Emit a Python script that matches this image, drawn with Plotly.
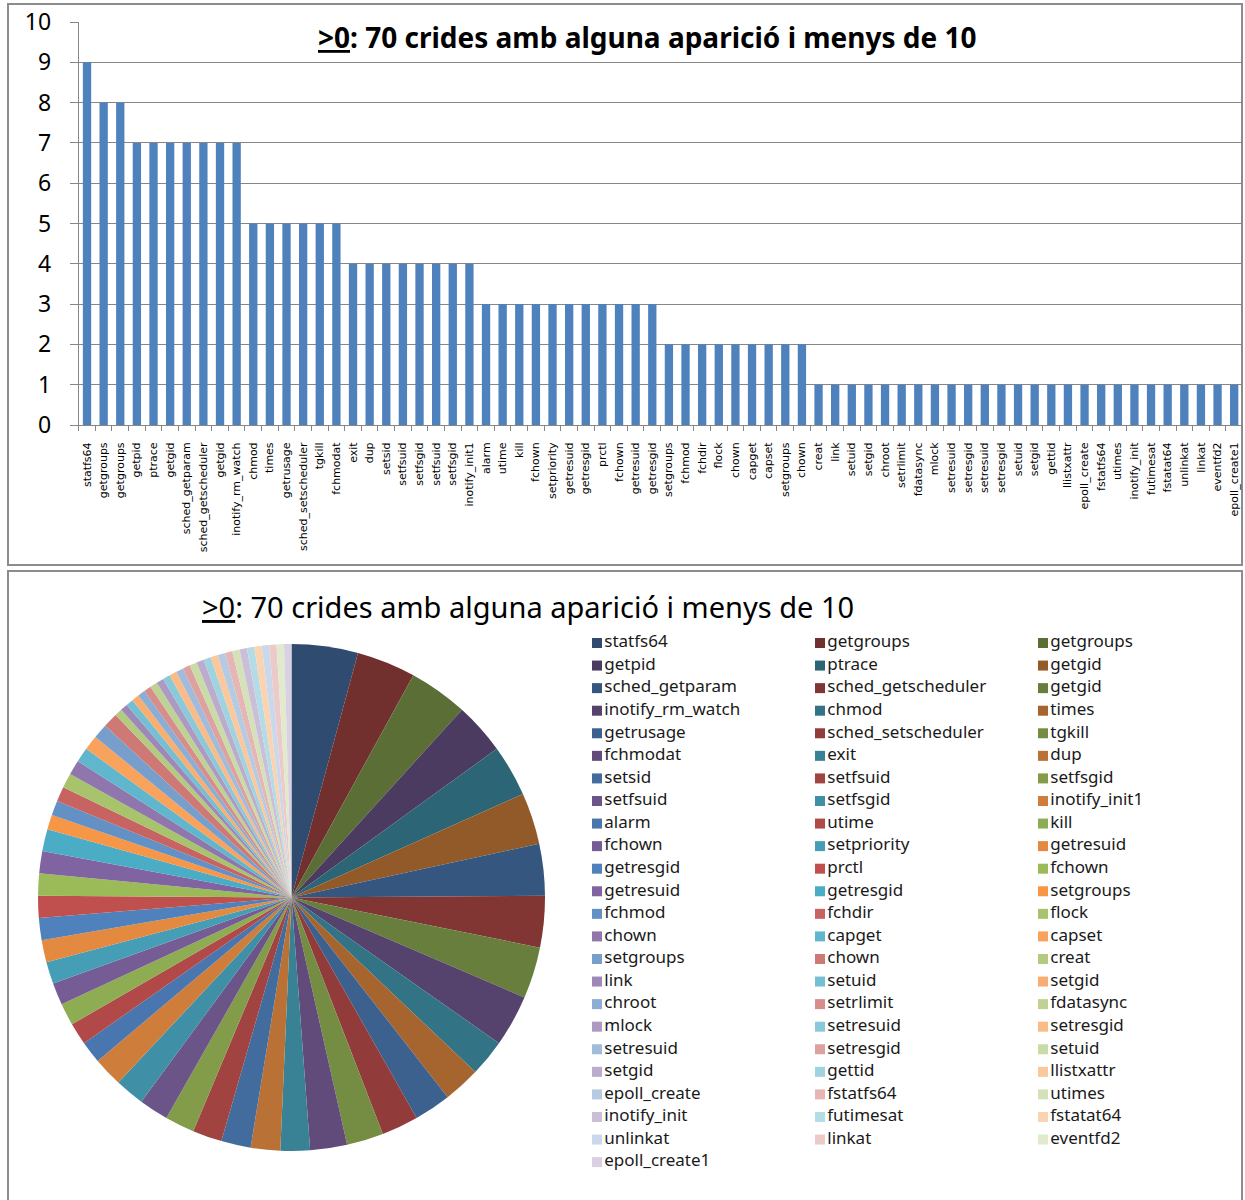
import plotly.graph_objects as go

# System calls seen at least once but fewer than 10 times
calls = [
    "statfs64", "getgroups", "getgroups", "getpid", "ptrace", "getgid",
    "sched_getparam", "sched_getscheduler", "getgid", "inotify_rm_watch", "chmod", "times",
    "getrusage", "sched_setscheduler", "tgkill", "fchmodat", "exit", "dup",
    "setsid", "setfsuid", "setfsgid", "setfsuid", "setfsgid", "inotify_init1",
    "alarm", "utime", "kill", "fchown", "setpriority", "getresuid",
    "getresgid", "prctl", "fchown", "getresuid", "getresgid", "setgroups",
    "fchmod", "fchdir", "flock", "chown", "capget", "capset",
    "setgroups", "chown", "creat", "link", "setuid", "setgid",
    "chroot", "setrlimit", "fdatasync", "mlock", "setresuid", "setresgid",
    "setresuid", "setresgid", "setuid", "setgid", "gettid", "llistxattr",
    "epoll_create", "fstatfs64", "utimes", "inotify_init", "futimesat", "fstatat64",
    "unlinkat", "linkat", "eventfd2", "epoll_create1",
]
counts = [
    9, 8, 8, 7, 7, 7, 7, 7, 7, 7,
    5, 5, 5, 5, 5, 5,
    4, 4, 4, 4, 4, 4, 4, 4,
    3, 3, 3, 3, 3, 3, 3, 3, 3, 3, 3,
    2, 2, 2, 2, 2, 2, 2, 2, 2,
    1, 1, 1, 1, 1, 1, 1, 1, 1, 1, 1, 1, 1,
    1, 1, 1, 1, 1, 1, 1, 1, 1, 1, 1, 1, 1,
]
y_ticks = list(range(0, 11))
title_html = "<u>>0</u>: 70 crides amb alguna aparició i menys de 10"

W, H = 1245, 1200
FONT = "Noto Sans"
GRID = "#868686"

# Office-style palette: six accents, each cycled from a dark shade to a light tint
ACCENTS = ["#4F81BD", "#C0504D", "#9BBB59", "#8064A2", "#4BACC6", "#F79646"]


def vary(hex_color, amount):
    rgb = [int(hex_color[i:i + 2], 16) for i in (1, 3, 5)]
    if amount < 0:
        out = [c * (1 + amount) for c in rgb]
    else:
        out = [c + (255 - c) * amount for c in rgb]
    return "#%02x%02x%02x" % tuple(round(c) for c in out)


def cycle_amount(k):
    return -0.41 + 0.082 * k if k <= 5 else 0.116 * (k - 5)


slice_colors = [vary(ACCENTS[i % 6], cycle_amount(i // 6)) for i in range(len(calls))]


def px_x(p):
    return p / W


def px_y(p):
    return 1 - p / H


fig = go.Figure()

# ---- bar chart ----
idx = list(range(len(calls)))
fig.add_trace(go.Bar(
    x=idx, y=counts, marker=dict(color="#4F81BD", line=dict(width=0)),
    xaxis="x", yaxis="y", showlegend=False,
    hovertext=calls, hoverinfo="text+y",
))

# ---- pie chart (labels left as indices so repeated names stay separate slices) ----
fig.add_trace(go.Pie(
    values=counts, customdata=calls,
    hovertemplate="%{customdata}: %{value}<extra></extra>",
    marker=dict(colors=slice_colors, line=dict(width=0)),
    sort=False, direction="clockwise", rotation=0,
    textinfo="none", showlegend=False,
    domain=dict(x=[px_x(38), px_x(545)], y=[px_y(1151), px_y(644)]),
))

# ---- legend for the pie: three columns, filled row by row ----
n_cols = 3
fig.add_trace(go.Scatter(
    x=[i % n_cols for i in idx], y=[i // n_cols for i in idx],
    mode="markers+text", text=calls, textposition="middle right",
    textfont=dict(family=FONT, size=17, color="#1a1a1a"),
    marker=dict(symbol="square", size=10, color=slice_colors, line=dict(width=0)),
    xaxis="x3", yaxis="y3", showlegend=False, hoverinfo="skip", cliponaxis=False,
))

col_step, col0 = 223, 597
row_step, row0 = 22.57, 643

fig.update_layout(
    width=W, height=H,
    margin=dict(l=0, r=0, t=0, b=0, autoexpand=False),
    paper_bgcolor="white", plot_bgcolor="rgba(0,0,0,0)",
    bargap=0.5,
    font=dict(family=FONT, color="#000"),
    xaxis=dict(
        domain=[px_x(78.7), px_x(1242.5)], anchor="y",
        range=[-0.5, len(calls) - 0.5],
        tickmode="array", tickvals=idx, ticktext=calls, tickangle=-90,
        tickfont=dict(family="DejaVu Sans", size=11, color="#000"),
        ticks="", showgrid=False, zeroline=False,
        showline=True, linecolor=GRID, linewidth=1,
        ticklabelstandoff=12,
        minor=dict(tick0=0.5, dtick=1, ticks="outside", ticklen=5,
                   tickcolor=GRID, showgrid=False),
        fixedrange=True,
    ),
    yaxis=dict(
        domain=[px_y(425), px_y(22)], anchor="x",
        range=[0, 10], tickmode="array", tickvals=y_ticks,
        tickfont=dict(family=FONT, size=23, color="#000"),
        ticks="outside", ticklen=8, tickcolor=GRID,
        showgrid=True, gridcolor=GRID, gridwidth=1,
        zeroline=False, showline=True, linecolor=GRID, linewidth=1,
        ticklabelstandoff=14, fixedrange=True,
    ),
    xaxis3=dict(
        domain=[0, 1], anchor="y3", visible=False, fixedrange=True,
        range=[-col0 / col_step, (W - col0) / col_step],
    ),
    yaxis3=dict(
        domain=[0, 1], anchor="x3", visible=False, fixedrange=True,
        range=[(H - row0) / row_step, -row0 / row_step],
    ),
    shapes=[
        dict(type="rect", xref="paper", yref="paper",
             x0=px_x(8), x1=px_x(1242), y0=px_y(565), y1=px_y(4),
             line=dict(color="#8c8c8c", width=2), layer="below"),
        dict(type="rect", xref="paper", yref="paper",
             x0=px_x(8), x1=px_x(1242), y0=px_y(1215), y1=px_y(571),
             line=dict(color="#8c8c8c", width=2), layer="below"),
    ],
    annotations=[
        dict(text="<b>" + title_html + "</b>", xref="paper", yref="paper",
             x=px_x(647), y=px_y(37), xanchor="center", yanchor="middle",
             showarrow=False, font=dict(family=FONT, size=28, color="#000")),
        dict(text=title_html, xref="paper", yref="paper",
             x=px_x(528), y=px_y(606), xanchor="center", yanchor="middle",
             showarrow=False, font=dict(family=FONT, size=29, color="#000")),
    ],
)

fig.write_html("out.html")
